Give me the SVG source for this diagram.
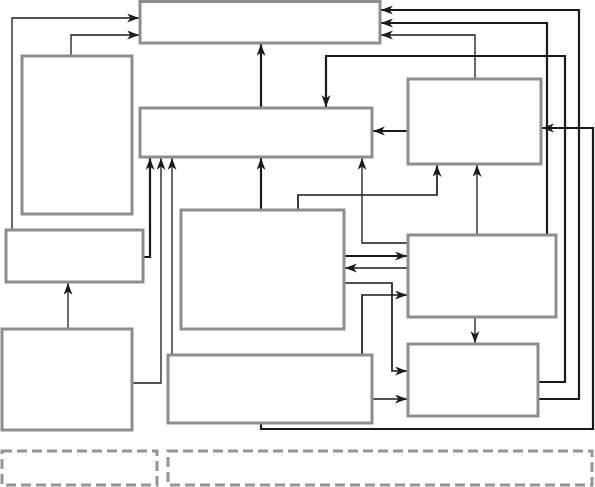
<svg xmlns="http://www.w3.org/2000/svg" width="595" height="487" viewBox="0 0 595 487">
<style>
.box{fill:#fff;stroke:#8e8e8e;stroke-width:3}
.dash{fill:none;stroke:#959595;stroke-width:3;stroke-dasharray:10 5}
.c{fill:none;stroke:#1a1a1a;stroke-width:1.3}
.k{fill:none;stroke:#1a1a1a;stroke-width:2.2}
.m{fill:none;stroke:#1a1a1a;stroke-width:1.7}
</style>
<defs>
<marker id="a" markerUnits="userSpaceOnUse" markerWidth="13" markerHeight="10" refX="12" refY="4.5" orient="auto" viewBox="0 0 13 10">
<path d="M0,0 L12,4.5 L0,9 L3.5,4.5 z" fill="#1a1a1a"/>
</marker>
</defs>
<rect width="595" height="487" fill="#fff"/>
<g id="connectors">
<path class="c" d="M12,230 V18 H139" marker-end="url(#a)"/>
<path class="c" d="M71,56 V35 H139" marker-end="url(#a)"/>
<path class="k" d="M261,108 V44" marker-end="url(#a)"/>
<path class="k" d="M261,210 V158" marker-end="url(#a)"/>
<path class="k" d="M143,257 H150 V158" marker-end="url(#a)"/>
<path class="c" d="M133,383 H161 V158" marker-end="url(#a)"/>
<path class="c" d="M172,355 V158" marker-end="url(#a)"/>
<path class="c" d="M68,329 V283" marker-end="url(#a)"/>
<path class="k" d="M408,131 H373" marker-end="url(#a)"/>
<path class="c" d="M475,79 V35 H381" marker-end="url(#a)"/>
<path class="k" d="M547,235 V23 H381" marker-end="url(#a)"/>
<path class="k" d="M538,399 H579 V10 H381" marker-end="url(#a)"/>
<path class="k" d="M538,382 H565 V56 H326 V107" marker-end="url(#a)"/>
<path class="c" d="M408,243 H362 V158" marker-end="url(#a)"/>
<path class="m" d="M298,210 V195 H437 V165" marker-end="url(#a)"/>
<path class="c" d="M477,235 V165" marker-end="url(#a)"/>
<path class="k" d="M261,423 V429 H593 V128 H542" marker-end="url(#a)"/>
<path class="k" d="M344,256 H407" marker-end="url(#a)"/>
<path class="m" d="M408,268 H345" marker-end="url(#a)"/>
<path class="m" d="M344,283 H392 V371 H407" marker-end="url(#a)"/>
<path class="m" d="M362,355 V295 H407" marker-end="url(#a)"/>
<path class="c" d="M372,399 H407" marker-end="url(#a)"/>
<path class="c" d="M475,317 V343" marker-end="url(#a)"/>
</g>
<g id="top"><rect class="box" x="140" y="1.5" width="240" height="41.5"/></g>
<g id="leftTall"><rect class="box" x="22" y="56" width="110" height="158"/></g>
<g id="middle"><rect class="box" x="140" y="108" width="232" height="49"/></g>
<g id="right"><rect class="box" x="408" y="79" width="133" height="85"/></g>
<g id="leftMid"><rect class="box" x="6" y="230" width="137" height="52"/></g>
<g id="center"><rect class="box" x="181" y="210" width="163" height="119"/></g>
<g id="lowerRight1"><rect class="box" x="408" y="235" width="148" height="82"/></g>
<g id="lowerRight2"><rect class="box" x="408" y="344" width="130" height="72"/></g>
<g id="leftBottom"><rect class="box" x="2" y="329" width="130" height="101"/></g>
<g id="bottom"><rect class="box" x="168" y="355" width="204" height="68"/></g>
<g id="dashLeft"><rect class="dash" x="2" y="451" width="155" height="34"/></g>
<g id="dashRight"><rect class="dash" x="168" y="451" width="424" height="34"/></g>
</svg>
